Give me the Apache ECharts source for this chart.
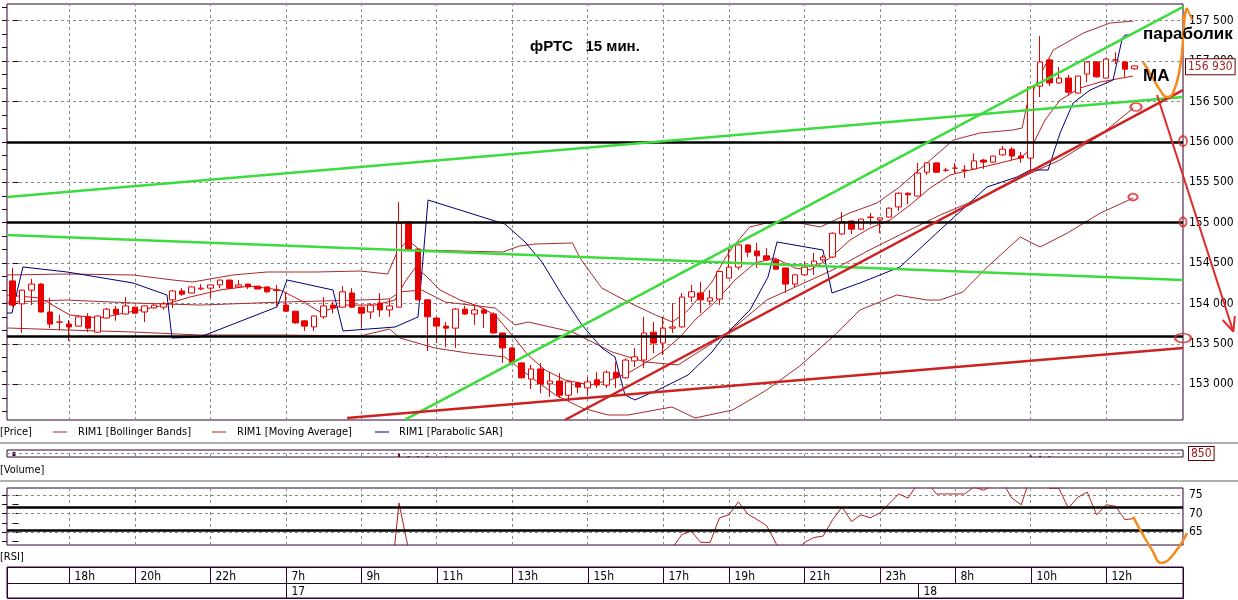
<!DOCTYPE html>
<html><head><meta charset="utf-8">
<script src="https://cdn.jsdelivr.net/npm/echarts@6/dist/echarts.min.js"></script>
<style>html,body{margin:0;padding:0;background:#fff}#c{width:1238px;height:600px}</style>
</head><body><div id="c"></div>
<script>
// ---------- DATA ----------
const candleOpen = [154280,153995,154165,154240,153895,153770,153745,153720,153835,153645,153820,153930,153870,153955,153895,153945,153955,154045,154155,154130,154180,154190,154230,154290,154205,154240,154215,154205,154165,153980,153905,153785,153710,153835,153980,153955,154130,153955,153895,154005,153920,153955,155010,154675,154045,153820,153720,153695,153930,153870,153920,153870,153635,153450,153265,153065,153190,153005,153040,152865,153015,152955,153055,152990,153150,153080,153290,153300,153645,153510,153695,153710,154080,154130,154030,154055,154315,154450,154725,154650,154590,154540,154440,154240,154355,154475,154540,154575,154860,155020,154920,155065,155035,155070,155195,155365,155330,155625,155740,155650,155675,155650,155665,155775,155750,155840,155910,155825,155800,156690,157015,156730,156790,156605,156840,156990,156790,157015,156990,156905];
const candleClose = [153980,154165,154240,153895,153745,153770,153710,153835,153695,153845,153930,153870,153970,153880,153970,153980,153995,154155,154115,154205,154190,154230,154290,154190,154230,154205,154180,154145,154160,153905,153760,153720,153845,153970,153945,154145,153955,153880,153980,153920,153970,154995,154660,154045,153835,153720,153695,153930,153870,153920,153880,153635,153450,153265,153080,153190,153005,153040,152865,153030,152965,153030,152990,153150,153080,153300,153340,153635,153510,153695,153710,154080,154145,154045,154070,154395,154450,154725,154635,154590,154540,154425,154240,154355,154450,154525,154575,154870,155010,154920,155045,155070,155060,155180,155365,155345,155615,155740,155625,155650,155675,155650,155765,155750,155825,155910,155825,155800,156680,156990,156730,156790,156615,156815,156990,156805,157025,157015,156900,156940];
const candleLow = [153960,153635,153980,153890,153695,153670,153535,153715,153645,153640,153815,153785,153865,153875,153770,153940,153920,153945,154095,154125,154165,154070,154190,154180,154200,154180,154175,154130,153970,153900,153750,153660,153660,153810,153880,153950,153945,153695,153810,153835,153835,153950,154655,154040,153410,153510,153460,153450,153860,153735,153695,153630,153265,153260,153070,152940,152890,152845,152830,152795,152890,152865,152955,152955,152955,153070,153215,153200,153385,153360,153635,153700,154020,153880,153980,153980,154310,154415,154575,154440,154530,154420,154130,154205,154345,154355,154520,154560,154850,154860,154915,154970,154870,155065,155145,155230,155325,155590,155620,155630,155615,155555,155660,155665,155745,155830,155775,155740,155640,156555,156690,156720,156580,156600,156740,156795,156785,156965,156805,156895];
const candleHigh = [154440,154170,154305,154250,154070,153860,153795,153840,153880,153850,153945,153970,154080,153960,153975,154005,154020,154165,154190,154210,154240,154235,154295,154295,154290,154245,154220,154210,154230,154130,153910,153790,153850,154080,154020,154215,154190,153960,154005,154130,154055,155255,155015,154680,154050,153830,153770,153945,153970,153970,153945,153890,153640,153455,153270,153240,153265,153150,153140,153035,153035,153090,153150,153170,153275,153320,153450,153835,153770,153835,154005,154130,154230,154265,154165,154400,154700,154730,154730,154750,154685,154550,154445,154360,154515,154625,154600,154880,155130,155030,155050,155120,155065,155190,155375,155375,155740,155745,155745,155680,155740,155715,155860,155790,155830,155950,155935,155875,156690,157310,157030,156925,156830,156820,157000,157000,157035,157110,157000,156945];

const bbUpper = [[-0.58,154353],[5.78,154365],[12.8,154353],[17.0,154291],[19.1,154266],[23.4,154353],[27.0,154390],[32.3,154390],[36.9,154402],[39.8,154365],[40.8,154637],[41.95,154786],[43.2,154662],[52.0,154637],[53.8,154712],[55.4,154736],[59.4,154749],[60.2,154563],[62.5,154192],[65.3,154018],[68.2,153858],[70.0,153771],[71.7,153920],[74.2,154266],[75.6,154563],[76.4,154699],[78.2,154947],[80.0,154996],[83.5,154996],[85.7,154947],[88.8,155120],[91.7,155244],[94.1,155442],[97.0,155739],[99.8,156023],[102.6,156110],[106.1,156147],[107.1,156172],[107.6,156456],[109.0,156828],[110.4,157137],[113.6,157348],[116.4,157471],[118.9,157496]];
const bbMiddle = [[-0.58,154018],[5.78,154043],[12.8,154006],[19.9,153981],[28.7,154018],[36.9,154043],[40.0,154056],[41.1,154143],[43.4,154167],[45.9,154018],[51.2,153944],[53.3,153734],[54.7,153771],[59.4,153647],[63.6,153400],[67.1,153276],[70.6,153239],[75.6,153610],[80.0,154043],[83.5,154229],[87.0,154415],[90.9,154662],[94.1,154848],[98.4,155095],[103.4,155343],[107.6,155590],[111.1,155776],[115.4,156085],[118.9,156419]];
const bbLower = [[-0.58,153697],[5.78,153672],[12.8,153647],[19.9,153610],[28.7,153610],[36.9,153598],[40.0,153684],[41.1,153573],[44.8,153449],[48.3,153387],[52.2,153338],[54.7,153115],[57.6,152867],[60.4,152707],[63.2,152620],[65.3,152620],[69.96,152719],[72.4,152583],[76.4,152682],[80.0,152929],[83.5,153226],[87.0,153585],[89.9,153919],[93.8,154105],[97.0,154043],[98.4,154043],[100.8,154142],[103.4,154452],[106.9,154823],[109.0,154699],[111.9,154872],[115.4,155120],[118.9,155306]];
const maLine = [[-0.58,154105],[2.92,154068],[6.10,153858],[9.28,153820],[12.46,153895],[15.65,153969],[18.83,154080],[22.01,154167],[25.19,154216],[28.38,154167],[30.5,154043],[32.62,153895],[35.27,153981],[38.45,153981],[40.57,154043],[41.63,154266],[42.7,154439],[43.76,154353],[45.35,154167],[47.47,154043],[49.38,153969],[51.18,153858],[52.99,153610],[54.68,153363],[56.49,153177],[58.61,153053],[61.26,152991],[63.38,153053],[65.5,153152],[67.63,153301],[69.22,153424],[70.81,153585],[72.4,153796],[74.52,154018],[76.64,154291],[78.76,154501],[80.88,154563],[83.01,154439],[84.6,154415],[86.72,154563],[88.84,154786],[90.96,154934],[93.08,155033],[95.21,155219],[97.33,155429],[99.45,155590],[101.57,155652],[104.75,155739],[106.88,155801],[107.94,155900],[109.53,156271],[111.12,156518],[113.24,156667],[115.36,156741],[118.86,156815]];
const sarLine = [[-0.58,153882],[-0.05,153882],[1.11,154452],[5.78,154390],[12.78,154254],[16.39,154105],[16.92,153573],[19.89,153585],[28.06,153957],[29.12,154291],[34.0,154167],[35.06,153660],[40.58,153709],[43.02,153833],[44.08,155281],[51.18,155021],[52.24,154984],[54.37,154761],[56.17,154513],[58.29,154105],[60.41,153734],[62.53,153449],[63.91,153338],[64.97,152867],[66.03,152806],[68.9,152954],[71.66,153115],[74.2,153400],[75.58,153610],[78.23,153919],[80.14,154328],[81.1,154761],[85.97,154662],[86.93,154130],[89.9,154254],[94.14,154452],[98.39,154910],[103.37,155442],[106.56,155566],[107.94,155652],[109.85,155652],[111.12,156110],[112.5,156481],[114.3,156642],[116.74,156766],[117.7,157273],[118.01,157323],[118.5,157323]];

const rsiLine = [[40,48],[41,72.9],[42,60.5],[43,55],[70,60.8],[71,64.4],[72,65.3],[73,62.3],[74,62.3],[75,68.9],[76,69.7],[77,73.2],[78,69.9],[79,68.4],[80,66.8],[81,62.0],[82,59],[83,59.5],[84,62.3],[85,63.6],[86,64.0],[87,68.4],[88,71.8],[89,67.9],[90,69.7],[91,68.9],[92,70.2],[94,75.3],[95,74.2],[96,78],[97,78.5],[98,75.3],[99,75.3],[100,75.3],[101,75.3],[102,77.2],[103,76.3],[104,77.5],[105,78.5],[106,74.2],[107,72.4],[108,80],[109,81],[110,76.8],[111,76.8],[112,71.5],[113,74.4],[114,75.8],[115,69.7],[116,72.4],[117,72.0],[118,68.4],[119,68.7]];
const volumeBars = [[41,700],[42,250],[43,200],[44,300],[46,150],[108,400],[109,300],[110,200]];
const volumeLast = 850;
const lastPrice = 156930;

const priceTicks = [153000,153500,154000,154500,155000,155500,156000,156500,157000,157500];
const rsiTicks = [65,70,75];
const priceLevels = [156000,155000,153600];
const rsiLevels = [71.6,65.5];

const hourLabels = ['18h','20h','22h','7h','9h','11h','13h','15h','17h','19h','21h','23h','8h','10h','12h'];
const hourStartBar = [6,13,21,29,37,45,53,61,69,76,84,92,100,108,116];
const dayLabels = ['17','18'];
const dayStartBar = [29,96];

// hand-drawn trend lines / annotations (bar index, price)
const greenLineA = [[-0.58,155318],[124.16,156556]];
const greenLineB = [[-0.58,154848],[124.16,154291]];
const greenLineC = [[41.6,152560],[124.16,157672]];
const redLineA = [[35.49,152583],[124.16,153449]];
const redLineB = [[58.6,152558],[124.16,156642]];
const arrowShaft = [[121.41,156580],[129.5,153651]];
const arrowHead = [[128.37,153796],[129.5,153651],[129.66,153845]];
const orangeCurve = [[119.92,156989],[120.98,156791],[121.72,156642],[122.47,156556],[123.10,156605],[123.85,156927],[124.16,157261],[124.37,157570],[124.59,157657]];
const orangeHead = [[124.07,157508],[124.59,157657],[125.13,157508]];
const rsiOrange = [[118.86,69.2],[119.81,64.8],[120.87,60.3],[121.88,56.8],[123.1,58.96],[124.6,64.8]];
const circleMarks = [[119.18,156432],[124.16,156011],[124.16,155009],[118.86,155318],[124.16,153573]];
const circleSizes = [[11,8],[8,10],[7,9],[9,7],[16,9]];

// ---------- LAYOUT / STYLE ----------
const X_MIN = -0.58, X_MAX = 124.16;
const P_MIN = 152558, P_MAX = 157707;
const R_MIN = 61.6, R_MAX = 76.9;
const PLOT_W = 1176, OVER_W = 1231;
const X_OVER_MAX = X_MIN + OVER_W * (X_MAX - X_MIN) / PLOT_W;
const RSI_H = 57, RSI_OVER_H = 80;
const R_OVER_MIN = R_MAX - RSI_OVER_H * (R_MAX - R_MIN) / RSI_H;
const NARROW = '"Liberation Sans Narrow","Arial Narrow","DejaVu Sans Condensed",sans-serif';
const ARIAL = '"Liberation Sans",Arial,sans-serif';
const FRAME = '#300030';
const GRIDC = '#8a8a8a';
const fmtK = v => String(Math.round(v)).replace(/\B(?=(\d{3})+(?!\d))/g, ' ');

const priceMinor = [];
for (let v = priceTicks[0] - 500; v <= P_MAX; v += 500 / 3) if (v >= P_MIN) priceMinor.push(Math.round(v));
const rsiMinor = [62.5, 65, 67.5, 70, 72.5, 75];

const candleData = candleOpen.map((o, i) => [i, o, candleClose[i], candleLow[i], candleHigh[i]]);

const cells = [];
const cellLabels = [];
cells.push([X_MIN, hourStartBar[0], 0]); cellLabels.push('');
hourStartBar.forEach((s, k) => { cells.push([s, k + 1 < hourStartBar.length ? hourStartBar[k + 1] : X_MAX, 0]); cellLabels.push(hourLabels[k]); });
cells.push([X_MIN, dayStartBar[0], 1]); cellLabels.push('');
dayStartBar.forEach((s, k) => { cells.push([s, k + 1 < dayStartBar.length ? dayStartBar[k + 1] : X_MAX, 1]); cellLabels.push(dayLabels[k]); });

const vGrid = {
  silent: true, symbol: 'none', z: 1, animation: false,
  label: { show: false },
  lineStyle: { color: GRIDC, type: [3, 3], width: 1 },
  data: hourStartBar.map(v => ({ xAxis: v }))
};

const gridBase = { left: 7, width: PLOT_W, show: true, borderColor: FRAME, borderWidth: 1, backgroundColor: '#fff' };
const xBase = (gi) => ({ type: 'value', gridIndex: gi, min: X_MIN, max: X_MAX, show: false });

function lineSeries(name, data, color, width, z, extra) {
  return Object.assign({ name, type: 'line', xAxisIndex: 0, yAxisIndex: 0, data, symbol: 'none', z,
    lineStyle: { color, width }, silent: true, animation: false }, extra || {});
}

const option = {
  animation: false,
  backgroundColor: '#fff',
  grid: [
    Object.assign({ top: 4, height: 416 }, gridBase),
    Object.assign({ top: 450, height: 7 }, gridBase),
    Object.assign({ top: 488, height: RSI_H }, gridBase),
    Object.assign({ top: 567, height: 31 }, gridBase),
    { left: 7, top: 4, width: OVER_W, height: 416, show: false },
    { left: 7, top: 488, width: OVER_W, height: RSI_OVER_H, show: false }
  ],
  xAxis: [xBase(0), xBase(1), xBase(2), xBase(3),
    { type: 'value', gridIndex: 4, min: X_MIN, max: X_OVER_MAX, show: false },
    { type: 'value', gridIndex: 5, min: X_MIN, max: X_OVER_MAX, show: false }],
  yAxis: [
    { type: 'value', gridIndex: 0, position: 'right', min: P_MIN, max: P_MAX,
      axisLine: { show: false },
      axisTick: { show: true, length: 6, customValues: priceTicks, lineStyle: { color: FRAME } },
      axisLabel: { customValues: priceTicks, margin: 6, formatter: v => fmtK(v), color: '#000', fontFamily: NARROW, fontSize: 12 },
      splitLine: { show: true, lineStyle: { color: GRIDC, type: [3, 3] } } },
    { type: 'value', gridIndex: 0, position: 'left', min: P_MIN, max: P_MAX,
      axisLine: { show: false }, axisLabel: { show: false }, splitLine: { show: false },
      axisTick: { show: true, length: 5, customValues: priceMinor, lineStyle: { color: FRAME } } },
    { type: 'value', gridIndex: 1, position: 'right', min: 0, max: volumeLast * 2,
      axisLine: { show: false }, splitLine: { show: false },
      axisTick: { show: true, length: 3, customValues: [volumeLast], lineStyle: { color: FRAME, width: 4 } },
      axisLabel: { customValues: [volumeLast], margin: 6, color: '#a01818', fontFamily: NARROW, fontSize: 12,
        borderColor: '#600000', borderWidth: 1, padding: [1, 2, 0, 2], backgroundColor: '#fff' } },
    { type: 'value', gridIndex: 2, position: 'right', min: R_MIN, max: R_MAX,
      axisLine: { show: false },
      axisTick: { show: true, length: 6, customValues: rsiMinor, lineStyle: { color: FRAME } },
      axisLabel: { customValues: rsiTicks, margin: 6, color: '#000', fontFamily: NARROW, fontSize: 12 },
      splitLine: { show: false } },
    { type: 'value', gridIndex: 2, position: 'left', min: R_MIN, max: R_MAX,
      axisLine: { show: false }, axisLabel: { show: false }, splitLine: { show: false },
      axisTick: { show: true, length: 5, customValues: rsiMinor, lineStyle: { color: FRAME } } },
    { type: 'value', gridIndex: 3, min: 0, max: 2, show: false },
    { type: 'value', gridIndex: 4, min: P_MIN, max: P_MAX, show: false },
    { type: 'value', gridIndex: 5, min: R_OVER_MIN, max: R_MAX, show: false }
  ],
  series: [
    lineSeries('BB upper', bbUpper, '#a52a2a', 1, 2, { markLine: vGrid }),
    lineSeries('BB middle', bbMiddle, '#a52a2a', 1, 2),
    lineSeries('BB lower', bbLower, '#a52a2a', 1, 2),
    lineSeries('MA', maLine, '#c01a1a', 1, 2),
    lineSeries('SAR', sarLine, '#00007a', 1, 2),
    { name: 'Price', type: 'candlestick', xAxisIndex: 0, yAxisIndex: 0, data: candleData, barWidth: 6, z: 3,
      silent: true, animation: false,
      itemStyle: { color: '#ffffff', color0: '#e80000', borderColor: '#e80000', borderColor0: '#e80000', borderColorDoji: '#e80000', borderWidth: 1 } },
    lineSeries('levels', [], '#000', 1, 4, { markLine: { silent: true, symbol: 'none', z: 4, animation: false, label: { show: false },
      lineStyle: { color: '#000', width: 2.5, type: 'solid' }, data: priceLevels.map(v => ({ yAxis: v })) } }),
    lineSeries('last price', [], '#000', 1, 6, { markLine: { silent: true, symbol: 'none', z: 6, animation: false,
        lineStyle: { color: 'rgba(0,0,0,0)', width: 0 },
        label: { show: true, position: 'end', distance: 3, formatter: () => fmtK(lastPrice), color: '#a02828',
          fontFamily: NARROW, fontSize: 12, borderColor: '#700000', borderWidth: 1, padding: [2, 2, 1, 2], backgroundColor: '#fff' },
        data: [{ yAxis: lastPrice }] } }),
    lineSeries('trend g1', greenLineA, '#3ddc3d', 2.5, 4),
    lineSeries('trend g2', greenLineB, '#3ddc3d', 2.5, 4),
    lineSeries('trend g3', greenLineC, '#3ddc3d', 2.5, 4),
    lineSeries('trend r1', redLineA, '#cc2222', 2.5, 4),
    lineSeries('trend r2', redLineB, '#cc2222', 2.5, 4),
    lineSeries('arrow', arrowShaft, '#e02828', 2, 5, { xAxisIndex: 4, yAxisIndex: 6 }),
    lineSeries('arrow head', arrowHead, '#e02828', 2, 5, { xAxisIndex: 4, yAxisIndex: 6 }),
    lineSeries('orange', orangeCurve, '#f58a1f', 2.5, 5, { xAxisIndex: 4, yAxisIndex: 6, smooth: 0.5 }),
    lineSeries('orange head', orangeHead, '#f58a1f', 2, 5, { xAxisIndex: 4, yAxisIndex: 6 }),
    { type: 'scatter', xAxisIndex: 4, yAxisIndex: 6, z: 5, silent: true, animation: false,
      data: circleMarks.map((p, k) => ({ value: p, symbolSize: circleSizes[k] })),
      itemStyle: { color: 'rgba(0,0,0,0)', borderColor: '#e02828', borderWidth: 2 } },
    // volume
    { type: 'bar', xAxisIndex: 1, yAxisIndex: 2, data: volumeBars, barWidth: 2, silent: true, animation: false,
      itemStyle: { color: '#800000' },
      markLine: { silent: true, symbol: 'none', z: 1, animation: false, label: { show: false },
        lineStyle: { color: GRIDC, type: [3, 3], width: 1 },
        data: hourStartBar.map(v => ({ xAxis: v })).concat([{ yAxis: volumeLast }]) } },
    // RSI
    { type: 'line', xAxisIndex: 2, yAxisIndex: 3, data: rsiLine, symbol: 'none', z: 2, silent: true, animation: false,
      lineStyle: { color: '#b02020', width: 1 },
      markLine: { silent: true, symbol: 'none', z: 1, animation: false, label: { show: false },
        lineStyle: { color: GRIDC, type: [3, 3], width: 1 },
        data: hourStartBar.map(v => ({ xAxis: v })).concat(rsiTicks.map(v => ({ yAxis: v }))) } },
    { type: 'line', xAxisIndex: 2, yAxisIndex: 3, data: [], symbol: 'none', silent: true, animation: false,
      markLine: { silent: true, symbol: 'none', z: 4, animation: false, label: { show: false },
        lineStyle: { color: '#000', width: 2.5, type: 'solid' }, data: rsiLevels.map(v => ({ yAxis: v })) } },
    { type: 'line', xAxisIndex: 5, yAxisIndex: 7, data: rsiOrange, symbol: 'none', z: 5, smooth: 0.5,
      silent: true, animation: false, lineStyle: { color: '#f58a1f', width: 2.5 } },
    // time table
    { type: 'custom', xAxisIndex: 3, yAxisIndex: 5, data: cells, silent: true, animation: false, clip: false,
      renderItem: function (params, api) {
        const s = api.value(0), e = api.value(1), row = api.value(2);
        const yTop = row === 0 ? 2 : 1;
        const p0 = api.coord([s, yTop]), p1 = api.coord([e, yTop - 1]);
        const x0 = Math.round(p0[0]) + 0.5, y0 = Math.round(p0[1]) + 0.5;
        const x1 = Math.round(p1[0]) + 0.5, y1 = Math.round(p1[1]) + 0.5;
        return { type: 'group', children: [
          { type: 'rect', shape: { x: x0, y: y0, width: x1 - x0, height: y1 - y0 }, style: { fill: 'none', stroke: FRAME, lineWidth: 1 } },
          { type: 'text', style: { text: cellLabels[params.dataIndex], x: x0 + 5, y: (y0 + y1) / 2 + 1, verticalAlign: 'middle',
            fontFamily: NARROW, fontSize: 12, fill: '#000' } }
        ] };
      } }
  ],
  graphic: [
    { type: 'line', shape: { x1: 0, y1: 443, x2: 1238, y2: 443 }, style: { stroke: '#b0b0b0', lineWidth: 2 }, silent: true },
    { type: 'line', shape: { x1: 0, y1: 481, x2: 1238, y2: 481 }, style: { stroke: '#b0b0b0', lineWidth: 2 }, silent: true },
    { type: 'text', style: { text: '[Price]', x: 0, y: 432, verticalAlign: 'middle', fontFamily: NARROW, fontSize: 11, fill: '#000' } },
    { type: 'line', shape: { x1: 53, y1: 432, x2: 67, y2: 432 }, style: { stroke: '#a52a2a', lineWidth: 1 } },
    { type: 'text', style: { text: 'RIM1 [Bollinger Bands]', x: 78, y: 432, verticalAlign: 'middle', fontFamily: NARROW, fontSize: 11, fill: '#000' } },
    { type: 'line', shape: { x1: 212, y1: 432, x2: 226, y2: 432 }, style: { stroke: '#c01a1a', lineWidth: 1 } },
    { type: 'text', style: { text: 'RIM1 [Moving Average]', x: 237, y: 432, verticalAlign: 'middle', fontFamily: NARROW, fontSize: 11, fill: '#000' } },
    { type: 'line', shape: { x1: 375, y1: 432, x2: 389, y2: 432 }, style: { stroke: '#00007a', lineWidth: 1 } },
    { type: 'text', style: { text: 'RIM1 [Parabolic SAR]', x: 399, y: 432, verticalAlign: 'middle', fontFamily: NARROW, fontSize: 11, fill: '#000' } },
    { type: 'text', style: { text: '[Volume]', x: 0, y: 470, verticalAlign: 'middle', fontFamily: NARROW, fontSize: 11, fill: '#000' } },
    { type: 'text', style: { text: '[RSI]', x: 0, y: 557, verticalAlign: 'middle', fontFamily: NARROW, fontSize: 11, fill: '#000' } },
    { type: 'text', z: 10, style: { text: 'фРТС   15 мин.', x: 530, y: 47, verticalAlign: 'middle', fontFamily: ARIAL, fontWeight: 'bold', fontSize: 15, fill: '#000' } },
    { type: 'text', z: 10, style: { text: 'параболик', x: 1143, y: 34, verticalAlign: 'middle', fontFamily: ARIAL, fontWeight: 'bold', fontSize: 17, fill: '#000' } },
    { type: 'text', z: 10, style: { text: 'МА', x: 1143, y: 76, verticalAlign: 'middle', fontFamily: ARIAL, fontWeight: 'bold', fontSize: 17, fill: '#000' } }
  ]
};

const chart = echarts.init(document.getElementById('c'), null, { renderer: 'canvas' });
chart.setOption(option);
</script>
</body></html>
